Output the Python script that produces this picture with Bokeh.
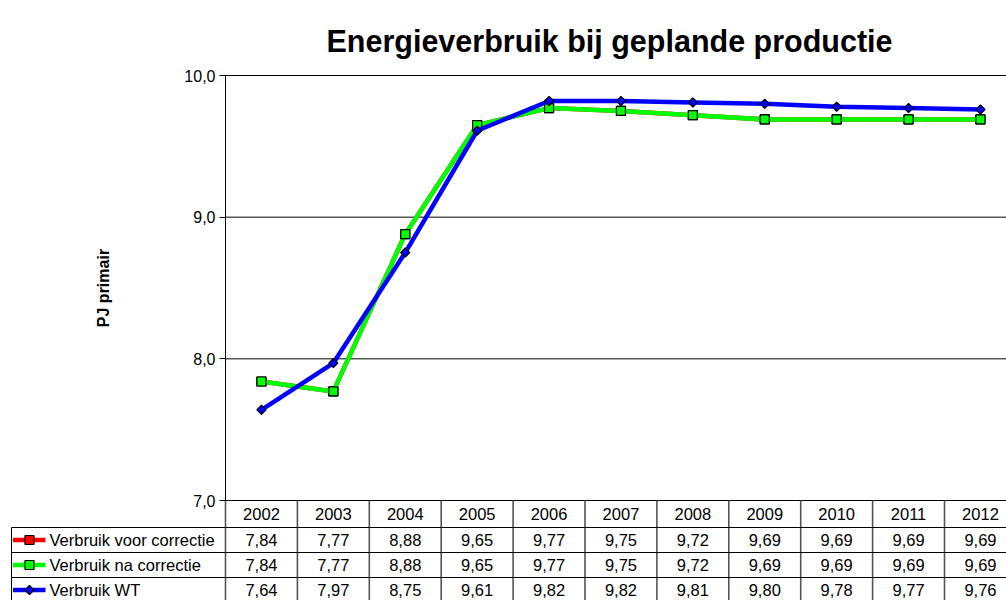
import math
from bokeh.plotting import figure
from bokeh.models import Range1d, FixedTicker, CustomJSTickFormatter, ColumnDataSource
from bokeh.embed import file_html
from bokeh.resources import INLINE
from bokeh.core.properties import value

# ---------------- data ----------------
title_text = "Energieverbruik bij geplande productie"
years = ["2002", "2003", "2004", "2005", "2006", "2007", "2008", "2009", "2010", "2011", "2012"]
verbruik_voor = [7.84, 7.77, 8.88, 9.65, 9.77, 9.75, 9.72, 9.69, 9.69, 9.69, 9.69]
verbruik_na = [7.84, 7.77, 8.88, 9.65, 9.77, 9.75, 9.72, 9.69, 9.69, 9.69, 9.69]
verbruik_wt = [7.64, 7.97, 8.75, 9.61, 9.82, 9.82, 9.81, 9.80, 9.78, 9.77, 9.76]
series_names = ["Verbruik voor correctie", "Verbruik na correctie", "Verbruik WT"]
y_ticks = [7.0, 8.0, 9.0, 10.0]

FONT = "Liberation Sans"
RED, GREEN, BLUE = "#FF0000", "#00FF00", "#0000FF"
W, H = 1006, 600
COLW = 71.9            # px per category column
AX_X = 225             # px position of the value axis
PX_Y = 425 / 3.0       # px per y unit
Y_BOT_PX = 500
TABLE_FS = "16.5px"

xs = list(range(len(years)))

def px_to_x(px):
    return -0.5 + (px - AX_X) / COLW

def py_to_y(py):
    return 7.0 - (py - Y_BOT_PX) / PX_Y

p = figure(width=W, height=H, output_backend="svg", toolbar_location=None,
           x_range=Range1d(px_to_x(0), px_to_x(W)),
           y_range=Range1d(py_to_y(H), py_to_y(0)),
           x_axis_location=None, min_border=0, outline_line_color=None,
           background_fill_color="white", border_fill_color="white")

# title
p.text(x=[px_to_x(609)], y=[py_to_y(40)], text=[title_text], text_align="center",
       text_baseline="alphabetic", text_font=value(FONT), text_font_size="30.5px",
       text_font_style="bold", text_color="black")

ax = p.yaxis[0]
ax.fixed_location = -0.5
ax.ticker = FixedTicker(ticks=y_ticks)
ax.bounds = (7.0, 10.0)
ax.formatter = CustomJSTickFormatter(code="return tick.toFixed(1).replace('.', ',');")
ax.major_label_text_font = FONT
ax.major_label_text_font_size = "16px"
ax.major_label_text_color = "black"
ax.major_tick_out = 6
ax.major_tick_in = 0
ax.minor_tick_out = 0
ax.minor_tick_in = 0
ax.axis_line_color = "black"
ax.major_tick_line_color = "black"
ax.major_label_standoff = 4
ax.axis_label = "PJ primair"
ax.axis_label_text_font = FONT
ax.axis_label_text_font_size = "16px"
ax.axis_label_text_font_style = "bold"
ax.axis_label_text_color = "black"
ax.axis_label_standoff = 69

p.xgrid.visible = False
p.ygrid.visible = False

x_right = len(years) - 0.5
# horizontal value gridlines (the 7,0 line is also the table's top border)
p.segment(x0=[-0.5] * len(y_ticks), y0=y_ticks, x1=[x_right] * len(y_ticks), y1=y_ticks,
          line_color="black", line_width=1)

# ---------------- table ----------------
n_rows = len(series_names)
HEADER_H, ROW_H = 27, 25
row_edges_px = [Y_BOT_PX + HEADER_H + i * ROW_H for i in range(n_rows + 1)]
row_edges = [py_to_y(v) for v in row_edges_px]
table_bottom = row_edges[-1]
leg_left = px_to_x(11)

vx = [i - 0.5 for i in range(len(years) + 1)]
p.segment(x0=vx, y0=[7.0] * len(vx), x1=vx, y1=[table_bottom] * len(vx),
          line_color="#555555", line_width=1.6)
p.segment(x0=[leg_left] * len(row_edges), y0=row_edges, x1=[x_right] * len(row_edges), y1=row_edges,
          line_color="black", line_width=1)
p.segment(x0=[leg_left], y0=[row_edges[0]], x1=[leg_left], y1=[table_bottom],
          line_color="black", line_width=1)

p.text(x=xs, y=[py_to_y(Y_BOT_PX + HEADER_H / 2)] * len(xs), text=years,
       text_align="center", text_baseline="middle",
       text_font=value(FONT), text_font_size=TABLE_FS, text_color="black")

colors = [RED, GREEN, BLUE]
all_vals = [verbruik_voor, verbruik_na, verbruik_wt]
for r, (name, vals, col) in enumerate(zip(series_names, all_vals, colors)):
    yc = py_to_y(row_edges_px[r] + ROW_H / 2)
    labels = [f"{v:.2f}".replace(".", ",") for v in vals]
    p.text(x=xs, y=[yc] * len(xs), text=labels, text_align="center", text_baseline="middle",
           text_font=value(FONT), text_font_size=TABLE_FS, text_color="black")
    p.segment(x0=[px_to_x(12.5)], y0=[yc], x1=[px_to_x(45)], y1=[yc], line_color=col, line_width=4.5)
    if r < 2:
        p.scatter(x=[px_to_x(29)], y=[yc], marker="square", size=9, fill_color=col,
                  line_color="black", line_width=1.2)
    else:
        p.scatter(x=[px_to_x(29)], y=[yc], marker="square", angle=math.pi / 4, size=6.5,
                  fill_color=col, line_color="black", line_width=1.2)
    p.text(x=[px_to_x(49)], y=[yc], text=[name], text_align="left", text_baseline="middle",
           text_font=value(FONT), text_font_size=TABLE_FS, text_color="black")

# ---------------- series ----------------
src = ColumnDataSource(dict(x=xs, voor=verbruik_voor, na=verbruik_na, wt=verbruik_wt))
p.line("x", "voor", source=src, line_color=RED, line_width=4.5)
p.scatter("x", "voor", source=src, marker="square", size=9, fill_color=RED, line_color="black", line_width=1.2)
p.line("x", "na", source=src, line_color=GREEN, line_width=4.5)
p.scatter("x", "na", source=src, marker="square", size=9, fill_color=GREEN, line_color="black", line_width=1.2)
p.line("x", "wt", source=src, line_color=BLUE, line_width=4.5)
p.scatter("x", "wt", source=src, marker="square", angle=math.pi / 4, size=6.5, fill_color=BLUE,
          line_color="black", line_width=1.2)

open("out.html", "w").write(file_html(p, INLINE))
